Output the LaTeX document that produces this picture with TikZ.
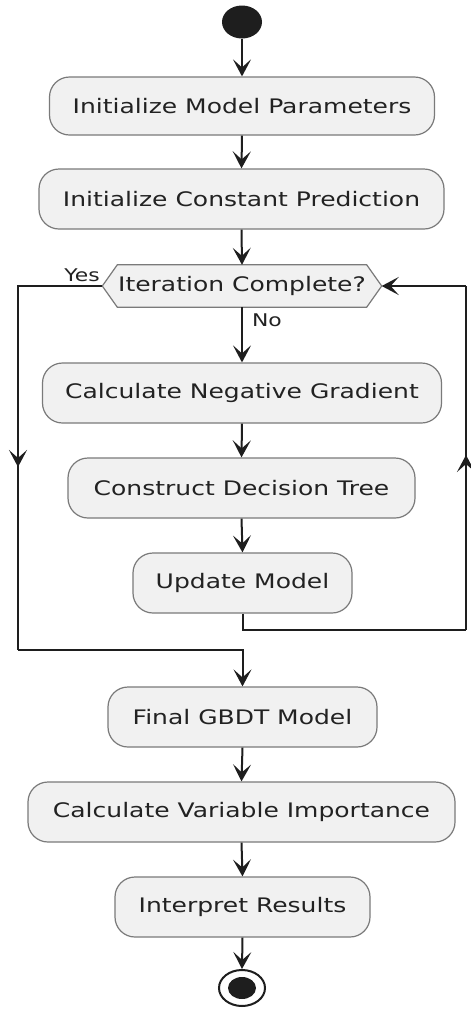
\documentclass[tikz,border=0pt]{standalone}
\usepackage{fontspec}
\setmainfont{DejaVu Sans}[FakeStretch=1.25]
\usetikzlibrary{arrows.meta,backgrounds,shapes.geometric}
\definecolor{boxfill}{HTML}{F1F1F1}
\definecolor{boxgray}{HTML}{7A7A7A}
\definecolor{ln}{HTML}{1E1E1E}
\definecolor{txt}{HTML}{222222}
\begin{document}
\begin{tikzpicture}[x=1pt,y=-1pt,
  act/.style={draw=boxgray, line width=1.2pt, fill=boxfill, rounded corners=20pt,
    minimum height=60pt, inner sep=0pt, font=\fontsize{20}{24}\selectfont, text=txt},
  tip/.tip={Stealth[length=17pt,width=18pt,inset=8pt]},
  flow/.style={draw=ln, line width=2pt, -tip},
  plainln/.style={draw=ln, line width=2pt},
  lbl/.style={font=\fontsize{17.5}{20}\selectfont, text=txt, inner sep=0pt}]
\useasboundingbox (0,0) rectangle (471,1013);
% start
\node[ellipse, fill=ln, minimum width=40pt, minimum height=33pt, inner sep=0pt] (start) at (242,22) {};
% activities
\node[act, minimum width=385pt, minimum height=58pt] (b1) at (242,106) {Initialize Model Parameters};
\node[act, minimum width=405pt] (b2) at (241.5,199) {Initialize Constant Prediction};
\node[inner sep=0pt, minimum width=279pt, minimum height=42pt, font=\fontsize{20}{24}\selectfont, text=txt] (dec) at (242,286) {Iteration Complete?};
\begin{scope}[on background layer]
\fill[white] (0,0) rectangle (471,1013);
\filldraw[draw=boxgray, line width=1.2pt, fill=boxfill] (dec.west) -- ([xshift=15pt]dec.north west) -- ([xshift=-15pt]dec.north east) -- (dec.east) -- ([xshift=-15pt]dec.south east) -- ([xshift=15pt]dec.south west) -- cycle;
\end{scope}
\node[act, minimum width=399pt] (b3) at (242,393) {Calculate Negative Gradient};
\node[act, minimum width=347pt] (b4) at (241.5,488) {Construct Decision Tree};
\node[act, minimum width=219pt] (b5) at (242.5,583) {Update Model};
\node[act, minimum width=269pt] (b6) at (242.5,717) {Final GBDT Model};
\node[act, minimum width=427pt] (b7) at (241.5,812) {Calculate Variable Importance};
\node[act, minimum width=255pt] (b8) at (242.5,907) {Interpret Results};
% end
\node[ellipse, draw=ln, line width=2pt, fill=white, minimum width=46pt, minimum height=36pt, inner sep=0pt] (stop) at (242,988) {};
\node[ellipse, fill=ln, minimum width=28pt, minimum height=22pt, inner sep=0pt] (stopin) at (stop.center) {};
% labels
\node[lbl] (yes) at (82,275) {Yes};
\node[lbl] (no) at (267,320) {No};
% coordinates
\coordinate (yl1) at (18,286);
\coordinate (ylm) at (18,467);
\coordinate (yl2) at (18,650);
\coordinate (rc1) at (466,630);
\coordinate (rcm) at (466,455);
\coordinate (rc2) at (466,286);
% connectors
\draw[flow] (start.south) -- (b1.north);
\draw[flow] (b1.south) -- (b2.north);
\draw[flow] (b2.south) -- (dec.north);
\draw[flow] (dec.south) -- (b3.north);
\draw[flow] (b3.south) -- (b4.north);
\draw[flow] (b4.south) -- (b5.north);
\draw[plainln] (b5.south) |- (rc1);
\draw[plainln] (rc1) -- (rc2);
\draw[flow] (rc1) -- (rcm);
\draw[flow] (rc2) -- (dec.east);
\draw[plainln] (dec.west) -- (yl1) -- (yl2);
\draw[flow] (yl1) -- (ylm);
\draw[flow] (yl2) -| (b6.north);
\draw[flow] (b6.south) -- (b7.north);
\draw[flow] (b7.south) -- (b8.north);
\draw[flow] (b8.south) -- (stop.north);
\end{tikzpicture}
\end{document}
